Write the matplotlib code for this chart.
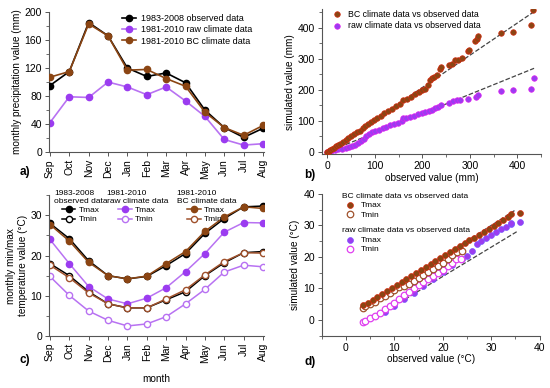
import numpy as np
import matplotlib
matplotlib.use('Agg')
import matplotlib.pyplot as plt
from matplotlib.ticker import MultipleLocator

plt.rcParams['font.family'] = ['Liberation Sans', 'DejaVu Sans']
plt.rcParams['font.size'] = 7.5
plt.rcParams['axes.labelsize'] = 7.2

months = ['Sep', 'Oct', 'Nov', 'Dec', 'Jan', 'Feb', 'Mar', 'Apr', 'May', 'Jun', 'Jul', 'Aug']

# a) monthly precipitation (mm)
prec_obs = [95, 115, 185, 166, 120, 108, 113, 99, 60, 35, 21, 34]
prec_raw = [42, 79, 78, 100, 93, 82, 93, 73, 51, 18, 10, 12]
prec_bc = [107, 115, 183, 166, 117, 118, 105, 94, 57, 35, 24, 38]

# b) simulated vs observed precipitation (mm)
b_bc_obs = [0, 3, 6, 10, 14, 18, 22, 27, 32, 38, 44, 50, 56, 62, 68, 74, 80, 86, 92, 98,
            105, 112, 120, 128, 136, 144, 152, 160, 168, 176, 184, 192, 200, 206, 212, 216,
            220, 225, 230, 236, 240, 255, 262, 268, 275, 283, 295, 298, 311, 314, 316,
            365, 390, 428, 432]
b_bc_sim = [0, 3, 6, 10, 14, 18, 22, 27, 33, 39, 45, 51, 57, 63, 69, 76, 84, 90, 97, 103,
            110, 117, 124, 131, 139, 147, 155, 166, 171, 178, 186, 193, 200, 204, 215, 232,
            238, 242, 248, 266, 275, 280, 283, 296, 298, 302, 325, 330, 358, 365, 374,
            382, 387, 408, 459]
b_raw_obs = [0, 8, 15, 22, 30, 38, 45, 52, 58, 64, 70, 76, 82, 88, 94, 100, 108, 116, 124,
             132, 140, 148, 156, 160, 166, 174, 182, 190, 198, 206, 214, 220, 226, 232, 240,
             255, 265, 272, 280, 295, 312, 316, 365, 390, 428, 434]
b_raw_sim = [0, 2, 5, 8, 11, 14, 17, 20, 24, 29, 34, 42, 50, 57, 63, 67, 72, 77, 81,
             86, 90, 94, 99, 108, 111, 113, 117, 121, 126, 129, 131, 136, 141, 146, 152,
             157, 163, 166, 168, 172, 178, 185, 198, 200, 202, 237]
b_fit_bc = 1.04
b_fit_raw = 0.62

# c) monthly temperature (°C)
tmax_obs = [28.0, 24.2, 18.7, 15.0, 14.2, 14.8, 17.5, 20.5, 25.5, 29.2, 32.1, 32.3]
tmin_obs = [18.0, 15.0, 11.0, 8.0, 7.0, 7.0, 9.0, 11.0, 15.0, 18.2, 20.7, 21.0]
tmax_raw = [24.0, 18.0, 12.3, 9.2, 8.0, 9.4, 12.0, 16.0, 20.5, 25.8, 28.2, 28.1]
tmin_raw = [14.8, 10.1, 6.2, 3.9, 2.5, 3.0, 4.8, 8.0, 11.6, 15.9, 17.6, 17.2]
tmax_bc = [27.7, 23.6, 18.3, 15.0, 14.2, 14.9, 18.0, 21.0, 26.0, 29.6, 32.1, 31.7]
tmin_bc = [17.6, 14.5, 10.7, 8.0, 7.0, 7.0, 9.2, 11.5, 15.2, 18.5, 20.7, 20.6]

# d) simulated vs observed temperature (°C)
d_bc_tmax_obs = [3.5, 4.5, 5.5, 6.5, 7.5, 8.5, 9.5, 10.5, 11.5, 12.5, 13.5, 14.5, 15.5, 16.5,
                 17.5, 18.5, 19.5, 20.5, 21.5, 22.5, 23.5, 24.5, 25.5, 26.5, 27.5, 28.5, 29.5,
                 30.5, 31.5, 32.5, 33.5, 34.2, 35.9]
d_bc_tmax_sim = [4.6, 5.4, 6.4, 7.2, 8.3, 9.1, 10.2, 11.0, 12.0, 12.9, 14.0, 14.8, 15.9, 16.7,
                 17.8, 18.6, 19.7, 20.5, 21.6, 22.4, 23.4, 24.3, 25.3, 26.1, 27.1, 28.0, 28.9,
                 29.8, 30.7, 31.6, 32.6, 33.6, 34.1]
d_bc_tmin_obs = [3.5, 4.0, 5.0, 6.0, 7.0, 8.0, 9.0, 10.0, 11.0, 12.0, 13.0, 14.0, 15.0,
                 16.0, 17.0, 18.0, 19.0, 20.0, 21.0, 22.0, 23.0, 24.0]
d_bc_tmin_sim = [3.8, 4.3, 5.0, 5.8, 6.8, 7.6, 8.5, 9.4, 10.3, 10.8, 11.4, 12.3, 13.3,
                 14.3, 15.3, 16.2, 17.2, 18.2, 19.3, 20.6, 21.5, 22.0]
d_raw_tmax_obs = [8, 10, 12, 14, 16, 18, 20, 22, 24, 25, 26, 27, 28, 29, 30, 31, 32, 33,
                  34, 34.2, 35.9]
d_raw_tmax_sim = [2.5, 4.5, 6.5, 8.5, 10.8, 13.0, 15.2, 17.3, 19.2, 20.2, 22.0, 24.0, 25.0,
                  26.0, 27.0, 28.0, 28.8, 29.6, 30.4, 30.8, 31.2]
d_raw_tmin_obs = [3.5, 4.0, 5.0, 6.0, 7.0, 8.0, 9.0, 10.0, 11.0, 12.0, 13.0, 14.0, 15.0,
                  16.0, 17.0, 18.0, 19.0, 20.0, 21.0, 22.0, 22.8, 23.8]
d_raw_tmin_sim = [-0.6, -0.3, 0.5, 1.3, 2.3, 3.3, 4.4, 5.5, 6.6, 7.8, 8.9, 10.0, 11.0,
                  12.0, 13.0, 14.0, 15.0, 16.0, 17.0, 18.2, 19.2, 19.3]
d_fit_bc = (0.98, 0.6)
d_fit_raw = (0.93, -4.8)

c_obs = 'black'
c_raw_line = '#b872f2'
c_raw = '#9b3cf0'
c_bc = '#8b4513'


def style(ax):
    for s in ['top', 'right']:
        ax.spines[s].set_visible(False)
    for s in ['left', 'bottom']:
        ax.spines[s].set_color('#555555')
        ax.spines[s].set_linewidth(0.8)
    ax.tick_params(direction='out', length=3, width=0.7, color='#555555', pad=2)
    ax.tick_params(which='minor', direction='out', length=2, width=0.6, color='#555555')


fig = plt.figure(figsize=(5.5, 3.88), dpi=100)
axa = fig.add_axes([0.089, 0.608, 0.391, 0.361])
axb = fig.add_axes([0.585, 0.602, 0.399, 0.374])
axc = fig.add_axes([0.089, 0.134, 0.391, 0.363])
axd = fig.add_axes([0.585, 0.135, 0.396, 0.365])

x = np.arange(len(months))

# a)
axa.plot(x, prec_raw, color=c_raw_line, lw=1.2, marker='o', ms=4.5, mfc=c_raw, mec=c_raw,
         label='1981-2010 raw climate data', zorder=2)
axa.plot(x, prec_obs, color=c_obs, lw=1.2, marker='o', ms=4.5, label='1983-2008 observed data', zorder=3)
axa.plot(x, prec_bc, color=c_bc, lw=1.2, marker='o', ms=4.5, label='1981-2010 BC climate data', zorder=4)
h, l = axa.get_legend_handles_labels()
axa.legend([h[1], h[0], h[2]], [l[1], l[0], l[2]], loc='upper left', bbox_to_anchor=(0.31, 1.03),
           frameon=False, fontsize=6.5, handlelength=1.6, labelspacing=0.25, borderpad=0.2,
           handletextpad=0.5)
axa.set_xlim(-0.05, 11.05)
axa.set_ylim(0, 200)
axa.set_yticks([0, 40, 80, 120, 160, 200])
axa.yaxis.set_minor_locator(MultipleLocator(20))
axa.set_xticks(x)
axa.set_xticklabels(months, rotation=90)
axa.set_ylabel('monthly precipitation value (mm)', labelpad=2)
style(axa)

# b)
xf = np.array([0, 435])
axb.plot(xf, b_fit_bc * xf, ls='--', color='#444444', lw=0.9, zorder=1)
axb.plot(xf, b_fit_raw * xf, ls='--', color='#444444', lw=0.9, zorder=1)
axb.scatter(b_bc_obs, b_bc_sim, s=16, color=c_bc, edgecolors='#d42a10', linewidths=0.5,
            label='BC climate data vs observed data', zorder=3)
axb.scatter(b_raw_obs, b_raw_sim, s=16, color=c_raw, edgecolors='#e020f0', linewidths=0.5,
            label='raw climate data vs observed data', zorder=2)
axb.legend(loc='upper left', bbox_to_anchor=(0.0, 1.04), frameon=False, fontsize=6.3,
           handletextpad=0.3, labelspacing=0.3, borderpad=0.2, scatterpoints=1)
axb.set_xlim(-12, 450)
axb.set_ylim(-8, 460)
axb.set_xticks([0, 100, 200, 300, 400])
axb.set_yticks([0, 100, 200, 300, 400])
axb.xaxis.set_minor_locator(MultipleLocator(50))
axb.yaxis.set_minor_locator(MultipleLocator(50))
axb.set_xlabel('observed value (mm)', labelpad=1)
axb.set_ylabel('simulated value (mm)', labelpad=2)
style(axb)

# c)
kw = dict(lw=1.1, ms=4.5, marker='o')
l1 = axc.plot(x, tmax_obs, color=c_obs, **kw)[0]
l2 = axc.plot(x, tmin_obs, color=c_obs, mfc='white', **kw)[0]
l3 = axc.plot(x, tmax_raw, color=c_raw_line, mfc=c_raw, mec=c_raw, **kw)[0]
l4 = axc.plot(x, tmin_raw, color=c_raw_line, mfc='white', mec=c_raw_line, **kw)[0]
l5 = axc.plot(x, tmax_bc, color=c_bc, **kw)[0]
l6 = axc.plot(x, tmin_bc, color='#a0522d', mfc='white', mec='#a0522d', **kw)[0]
titles = ['1983-2008\nobserved data', '1981-2010\nraw climate data', '1981-2010\nBC climate data']
pairs = [(l1, l2), (l3, l4), (l5, l6)]
xpos = [0.0, 0.245, 0.57]
for t, p, xp in zip(titles, pairs, xpos):
    lg = axc.legend(p, ['Tmax', 'Tmin'], title=t, loc='upper left', bbox_to_anchor=(xp, 1.07),
                    frameon=False, fontsize=6, title_fontsize=6, handlelength=1.6,
                    labelspacing=0.15, borderpad=0.1, handletextpad=0.4)
    axc.add_artist(lg)
axc.legend_ = None
axc.set_xlim(-0.05, 11.05)
axc.set_ylim(0, 35)
axc.set_yticks([0, 10, 20, 30])
axc.yaxis.set_minor_locator(MultipleLocator(5))
axc.set_xticks(x)
axc.set_xticklabels(months, rotation=90)
axc.set_xlabel('month', labelpad=8)
axc.set_ylabel('monthly min/max\ntemperature value (°C)', labelpad=2)
style(axc)

# d)
xb = np.array([4, 35])
xr = np.array([4, 35.3])
axd.plot(xb, d_fit_bc[0] * xb + d_fit_bc[1], ls='--', color='#444444', lw=0.9, zorder=1)
axd.plot(xr, d_fit_raw[0] * xr + d_fit_raw[1], ls='--', color='#444444', lw=0.9, zorder=1)
s1 = axd.scatter(d_bc_tmax_obs, d_bc_tmax_sim, s=18, color=c_bc, edgecolors='#d42a10', linewidths=0.5, zorder=4)
s2 = axd.scatter(d_bc_tmin_obs, d_bc_tmin_sim, s=22, facecolors='white', edgecolors='#a0522d',
                 linewidths=0.9, zorder=3)
s3 = axd.scatter(d_raw_tmax_obs, d_raw_tmax_sim, s=18, color=c_raw, edgecolors='#7a55ff', linewidths=0.5, zorder=2)
s4 = axd.scatter(d_raw_tmin_obs, d_raw_tmin_sim, s=22, facecolors='white', edgecolors='#e040f0',
                 linewidths=0.9, zorder=2)
lg1 = axd.legend([s1, s2], ['Tmax', 'Tmin'], title='BC climate data vs observed data', loc='upper left',
                 bbox_to_anchor=(0.07, 1.045), frameon=False, fontsize=6, title_fontsize=6,
                 alignment='left', labelspacing=0.2, borderpad=0.1, handletextpad=0.3)
axd.add_artist(lg1)
axd.legend([s3, s4], ['Tmax', 'Tmin'], title='raw climate data vs observed data', loc='upper left',
           bbox_to_anchor=(0.07, 0.80), frameon=False, fontsize=6, title_fontsize=6,
           alignment='left', labelspacing=0.2, borderpad=0.1, handletextpad=0.3)
axd.set_xlim(-5, 40)
axd.set_ylim(-5, 40)
axd.set_xticks([0, 10, 20, 30, 40])
axd.set_yticks([0, 10, 20, 30, 40])
axd.xaxis.set_minor_locator(MultipleLocator(5))
axd.yaxis.set_minor_locator(MultipleLocator(5))
axd.set_xlabel('observed value (°C)', labelpad=1)
axd.set_ylabel('simulated value (°C)', labelpad=2)
style(axd)

fig.text(0.036, 0.548, 'a)', fontsize=8.5, fontweight='bold')
fig.text(0.553, 0.542, 'b)', fontsize=8.5, fontweight='bold')
fig.text(0.036, 0.065, 'c)', fontsize=8.5, fontweight='bold')
fig.text(0.553, 0.06, 'd)', fontsize=8.5, fontweight='bold')

fig.savefig('out.png', dpi=100)
